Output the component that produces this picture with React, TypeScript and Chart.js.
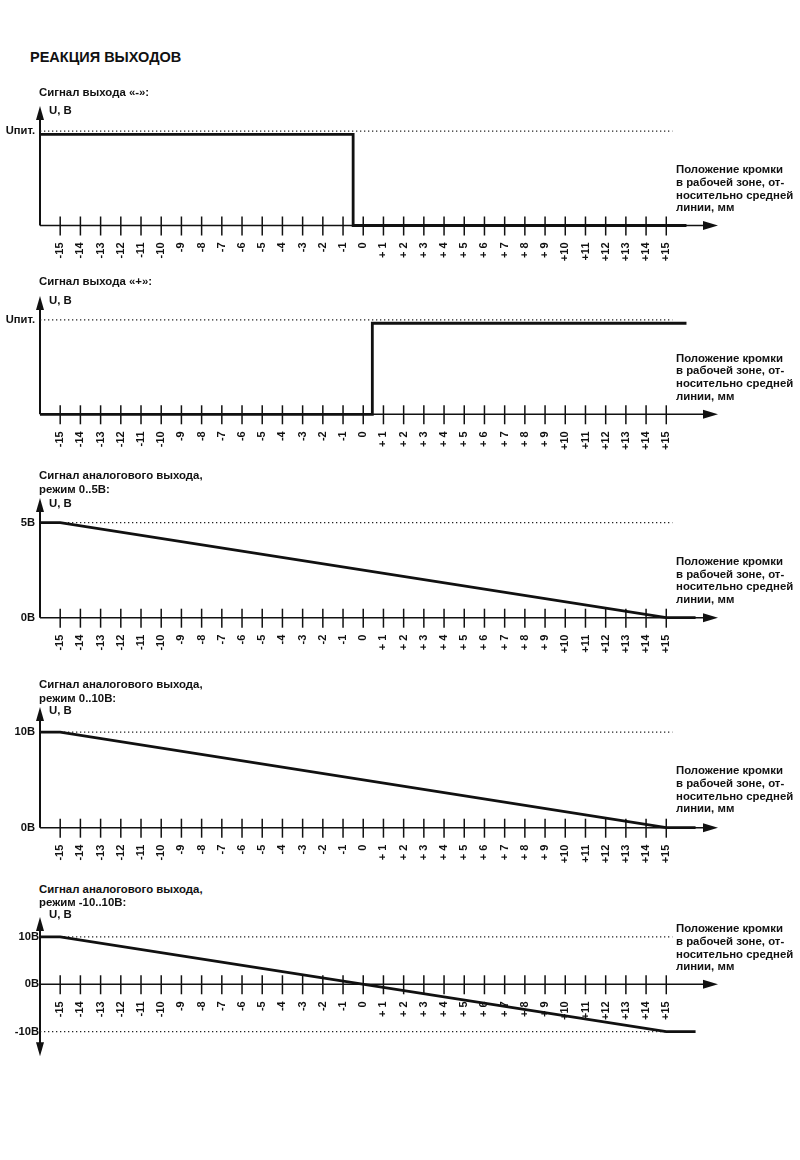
import React, { useEffect, useRef } from 'react';
import { Chart, registerables } from 'chart.js';

Chart.register(...registerables);

// ---------- data ----------
const xTickValues = [-15, -14, -13, -12, -11, -10, -9, -8, -7, -6, -5, -4, -3, -2, -1, 0, 1, 2, 3, 4, 5, 6, 7, 8, 9, 10, 11, 12, 13, 14, 15];
const xTickLabels = ['-15', '-14', '-13', '-12', '-11', '-10', '-9', '-8', '-7', '-6', '-5', '-4', '-3', '-2', '-1', '0', '+ 1', '+ 2', '+ 3', '+ 4', '+ 5', '+ 6', '+ 7', '+ 8', '+ 9', '+10', '+11', '+12', '+13', '+14', '+15'];

const outMinusX = [-16, -0.5, -0.5, 16];
const outMinusY = [0.965, 0.965, 0, 0];

const outPlusX = [-16, 0.45, 0.45, 16];
const outPlusY = [0, 0, 0.965, 0.965];

const analog5X = [-16, -15, 15, 16.45];
const analog5Y = [5, 5, 0, 0];

const analog10X = [-16, -15, 15, 16.45];
const analog10Y = [10, 10, 0, 0];

const analogBiX = [-16, -15, 15, 16.45];
const analogBiY = [10, 10, -10, -10];

const refLineX = [-16, 15.3];
const refLevelsOut = [1];
const refLevels5 = [5];
const refLevels10 = [10];
const refLevelsBi = [10, -10];

const yTicksOut = [1];
const yLabelsOut = ['Uпит.'];
const yTicks5 = [5, 0];
const yLabels5 = ['5В', '0В'];
const yTicks10 = [10, 0];
const yLabels10 = ['10В', '0В'];
const yTicksBi = [10, 0, -10];
const yLabelsBi = ['10В', '0В', '-10В'];

const mainTitle = 'РЕАКЦИЯ ВЫХОДОВ';
const axisNameY = 'U, В';
const axisNameX = ['Положение кромки', 'в рабочей зоне, от-', 'носительно средней', 'линии, мм'];

// ---------- layout ----------
const FONT = '"Liberation Sans", Arial, Helvetica, sans-serif';
const INK = '#111';
const TXT = 11.4;

type PanelCfg = {
  top: number; height: number; padTop: number; padBottom: number;
  yMin: number; yMax: number;
  yTicks: number[]; yLabels: string[]; yPad: number;
  sx: number[]; sy: number[]; refs: number[]; bottomArrow: boolean;
  title: string[]; titleCenters: number[]; uCenter: number; noteCenter: number;
};

const panels: PanelCfg[] = [
  { top: 86, height: 186, padTop: 20, padBottom: 46.5, yMin: 0, yMax: 1.265, yTicks: yTicksOut, yLabels: yLabelsOut, yPad: 5,
    sx: outMinusX, sy: outMinusY, refs: refLevelsOut, bottomArrow: false,
    title: ['Сигнал выхода «-»:'], titleCenters: [92.5], uCenter: 111, noteCenter: 170 },
  { top: 276, height: 186, padTop: 20, padBottom: 47.7, yMin: 0, yMax: 1.254, yTicks: yTicksOut, yLabels: yLabelsOut, yPad: 5,
    sx: outPlusX, sy: outPlusY, refs: refLevelsOut, bottomArrow: false,
    title: ['Сигнал выхода «+»:'], titleCenters: [281.7], uCenter: 301, noteCenter: 358.6 },
  { top: 478, height: 186, padTop: 20, padBottom: 46.3, yMin: 0, yMax: 6.3, yTicks: yTicks5, yLabels: yLabels5, yPad: 5,
    sx: analog5X, sy: analog5Y, refs: refLevels5, bottomArrow: false,
    title: ['Сигнал аналогового выхода,', 'режим 0..5В:'], titleCenters: [476, 489.5], uCenter: 503.3, noteCenter: 561.7 },
  { top: 686.7, height: 186, padTop: 20, padBottom: 45.3, yMin: 0, yMax: 12.63, yTicks: yTicks10, yLabels: yLabels10, yPad: 5,
    sx: analog10X, sy: analog10Y, refs: refLevels10, bottomArrow: false,
    title: ['Сигнал аналогового выхода,', 'режим 0..10В:'], titleCenters: [685, 698.5], uCenter: 710.7, noteCenter: 771 },
  { top: 896.7, height: 186, padTop: 20, padBottom: 26.7, yMin: -15.2, yMax: 14.2, yTicks: yTicksBi, yLabels: yLabelsBi, yPad: 1,
    sx: analogBiX, sy: analogBiY, refs: refLevelsBi, bottomArrow: true,
    title: ['Сигнал аналогового выхода,', 'режим -10..10В:'], titleCenters: [889.3, 902.7], uCenter: 915, noteCenter: 929 },
];

const axisDecor = {
  id: 'axisDecor',
  beforeDatasetsDraw(chart: any) {
    const { ctx, scales } = chart;
    const xs = scales.x, ys = scales.y;
    const y0 = ys.getPixelForValue(0);
    const xl = xs.getPixelForValue(xs.min);
    const xr = xs.getPixelForValue(xs.max);
    const yt = ys.getPixelForValue(ys.max);
    const yb = ys.getPixelForValue(ys.min);
    ctx.save();
    ctx.strokeStyle = INK;
    ctx.lineWidth = 1.5;
    ctx.beginPath(); ctx.moveTo(xl, y0); ctx.lineTo(xr - 6, y0); ctx.stroke();
    ctx.lineWidth = 2;
    ctx.beginPath(); ctx.moveTo(xl, yt + 6); ctx.lineTo(xl, yb - (chart.options.plugins.axisDecor.bottomArrow ? 6 : 0)); ctx.stroke();
    ctx.restore();
  },
  afterDatasetsDraw(chart: any) {
    const { ctx, scales } = chart;
    const xs = scales.x, ys = scales.y;
    const y0 = ys.getPixelForValue(0);
    const xl = xs.getPixelForValue(xs.min);
    const xr = xs.getPixelForValue(xs.max);
    const yt = ys.getPixelForValue(ys.max);
    const yb = ys.getPixelForValue(ys.min);
    ctx.save();
    ctx.strokeStyle = INK;
    ctx.fillStyle = INK;
    ctx.lineWidth = 1.5;
    for (const v of xTickValues) {
      const px = xs.getPixelForValue(v);
      ctx.beginPath(); ctx.moveTo(px, y0 - 9); ctx.lineTo(px, y0 + 10); ctx.stroke();
    }
    ctx.beginPath(); ctx.moveTo(xr, y0); ctx.lineTo(xr - 15, y0 - 4.5); ctx.lineTo(xr - 15, y0 + 4.5); ctx.closePath(); ctx.fill();
    ctx.beginPath(); ctx.moveTo(xl, yt); ctx.lineTo(xl - 4, yt + 14); ctx.lineTo(xl + 4, yt + 14); ctx.closePath(); ctx.fill();
    if (chart.options.plugins.axisDecor.bottomArrow) {
      ctx.beginPath(); ctx.moveTo(xl, yb); ctx.lineTo(xl - 4, yb - 14); ctx.lineTo(xl + 4, yb - 14); ctx.closePath(); ctx.fill();
    }
    ctx.restore();
  },
};

function Panel({ cfg }: { cfg: PanelCfg }) {
  const ref = useRef<HTMLCanvasElement | null>(null);
  useEffect(() => {
    if (!ref.current) return;
    const datasets: any[] = [
      {
        data: cfg.sx.map((x, i) => ({ x, y: cfg.sy[i] })),
        borderColor: INK, borderWidth: 2.8, pointRadius: 0, tension: 0, clip: false,
        borderJoinStyle: 'miter', borderCapStyle: 'butt',
      },
      ...cfg.refs.map((lvl) => ({
        data: refLineX.map((x) => ({ x, y: lvl })),
        borderColor: '#222', borderWidth: 1.3, borderDash: [1.3, 2.7], pointRadius: 0, clip: false,
      })),
    ];
    const chart = new Chart(ref.current, {
      type: 'line',
      data: { datasets },
      plugins: [axisDecor as any],
      options: {
        animation: false,
        responsive: false,
        events: [],
        layout: { padding: { top: cfg.padTop, bottom: cfg.padBottom, left: 0, right: 82 } },
        plugins: { legend: { display: false }, tooltip: { enabled: false }, axisDecor: { bottomArrow: cfg.bottomArrow } } as any,
        scales: {
          x: {
            type: 'linear', min: -16, max: 17.56,
            position: { y: 0 } as any,
            grid: { display: false, drawTicks: false },
            border: { display: false },
            afterBuildTicks: (s: any) => { s.ticks = xTickValues.map((v) => ({ value: v })); },
            ticks: {
              autoSkip: false, minRotation: 90, maxRotation: 90, padding: 17, color: INK,
              font: { family: FONT, size: 11, weight: 'bold' },
              callback: (_v: any, i: number) => xTickLabels[i],
            },
          },
          y: {
            type: 'linear', min: cfg.yMin, max: cfg.yMax, position: 'left',
            afterFit: (s: any) => { s.width = 40; },
            grid: { display: false, drawTicks: false },
            border: { display: false },
            afterBuildTicks: (s: any) => { s.ticks = cfg.yTicks.map((v) => ({ value: v })); },
            ticks: {
              padding: cfg.yPad, color: INK,
              font: { family: FONT, size: 11.2, weight: 'bold' },
              callback: (_v: any, i: number) => cfg.yLabels[i],
            },
          },
        },
      } as any,
    });
    return () => chart.destroy();
  }, [cfg]);
  return (
    <canvas ref={ref} width={800} height={cfg.height}
      style={{ position: 'absolute', left: 0, top: cfg.top, width: 800, height: cfg.height }} />
  );
}

const textBase: React.CSSProperties = {
  position: 'absolute', fontFamily: FONT, fontWeight: 'bold', color: INK, whiteSpace: 'nowrap',
};

export default function App() {
  return (
    <div style={{ position: 'absolute', left: 0, top: 0, width: 800, height: 1160, background: '#fff', overflow: 'hidden' }}>
      {panels.map((p, i) => <Panel key={i} cfg={p} />)}
      <div style={{ ...textBase, left: 30, top: 49.4, fontSize: 14.5, lineHeight: '16px' }}>{mainTitle}</div>
      {panels.map((p, i) => (
        <React.Fragment key={'t' + i}>
          {p.title.map((t, j) => (
            <div key={j} style={{ ...textBase, left: 39, top: p.titleCenters[j] - 6.6, fontSize: TXT, lineHeight: '13px' }}>{t}</div>
          ))}
          <div style={{ ...textBase, left: 49, top: p.uCenter - 6.6, fontSize: TXT, lineHeight: '13px' }}>{axisNameY}</div>
          <div style={{ ...textBase, left: 676, top: p.noteCenter - 6.9, fontSize: TXT, lineHeight: '12.8px' }}>
            {axisNameX.map((l, k) => <div key={k}>{l}</div>)}
          </div>
        </React.Fragment>
      ))}
    </div>
  );
}
